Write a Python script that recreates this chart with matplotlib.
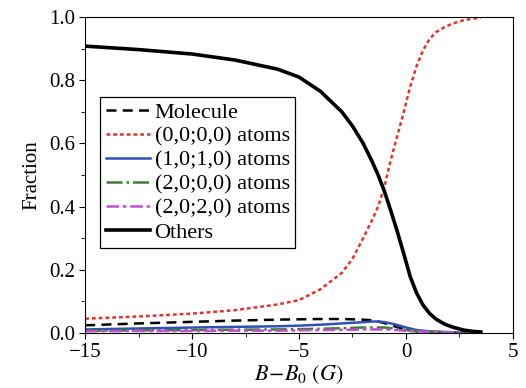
import numpy as np
import matplotlib.pyplot as plt

plt.rcParams['font.family'] = ['Liberation Serif', 'DejaVu Serif']
plt.rcParams['mathtext.fontset'] = 'stix'
plt.rcParams['font.size'] = 15

# field detuning B - B0 (G)
field = [-15, -12.5, -10, -8, -6, -5, -4, -3, -2.5, -2, -1.6, -1.3, -1, -0.7, -0.4,
         -0.1, 0.2, 0.5, 0.8, 1.1, 1.4, 1.8, 2.2, 2.7, 3.1, 3.5]

molecule = [0.024, 0.030, 0.035, 0.039, 0.042, 0.043, 0.044, 0.044, 0.043, 0.042, 0.040,
            0.036, 0.031, 0.025, 0.018, 0.012, 0.008, 0.005, 0.003, 0.002, 0.001, 0.001,
            0.0, 0.0, 0.0, 0.0]
atoms_0000 = [0.045, 0.052, 0.061, 0.072, 0.090, 0.104, 0.138, 0.19, 0.235, 0.30, 0.355,
              0.40, 0.465, 0.55, 0.625, 0.70, 0.78, 0.845, 0.895, 0.93, 0.952, 0.968,
              0.980, 0.99, 0.995, 0.998]
atoms_1010 = [0.011, 0.014, 0.017, 0.019, 0.021, 0.023, 0.026, 0.030, 0.032, 0.034, 0.036,
              0.036, 0.034, 0.030, 0.025, 0.019, 0.014, 0.009, 0.007, 0.005, 0.004, 0.003,
              0.002, 0.001, 0.0, 0.0]
atoms_2000 = [0.007, 0.008, 0.009, 0.010, 0.011, 0.012, 0.013, 0.015, 0.016, 0.017, 0.017,
              0.017, 0.017, 0.015, 0.013, 0.010, 0.008, 0.006, 0.005, 0.004, 0.003, 0.002,
              0.002, 0.001, 0.0, 0.0]
atoms_2020 = [0.005, 0.006, 0.006, 0.007, 0.007, 0.008, 0.009, 0.010, 0.010, 0.011, 0.011,
              0.011, 0.011, 0.010, 0.009, 0.007, 0.006, 0.005, 0.004, 0.003, 0.003, 0.002,
              0.002, 0.001, 0.0, 0.0]
others = [0.908, 0.897, 0.883, 0.864, 0.835, 0.81, 0.765, 0.70, 0.655, 0.60, 0.545,
          0.50, 0.447, 0.385, 0.32, 0.25, 0.178, 0.126, 0.088, 0.062, 0.044, 0.028,
          0.018, 0.009, 0.005, 0.003]

fig = plt.figure(figsize=(5.26, 3.88), dpi=100)
ax = fig.add_axes([0.162, 0.142, 0.813, 0.814])

ax.plot(field, molecule, color='black', linestyle=(0, (4, 2.5)), lw=1.8, label='Molecule')
ax.plot(field, atoms_0000, color='#e8302a', linestyle=(0, (1.5, 1.2)), lw=1.8, label='(0,0;0,0) atoms')
ax.plot(field, atoms_1010, color='#3050b8', linestyle='-', lw=1.8, label='(1,0;1,0) atoms')
ax.plot(field, atoms_2000, color='#3a7d2c', linestyle='-.', lw=1.8, label='(2,0;0,0) atoms')
ax.plot(field, atoms_2020, color='#c050d0', linestyle=(0, (5, 1.5, 1.5, 1.5)), lw=1.8, label='(2,0;2,0) atoms')
ax.plot(field, others, color='black', linestyle='-', lw=2.6, label='Others')

ax.set_xlim(-15, 5)
ax.set_ylim(0, 1.0)
ax.set_xticks([-15, -10, -5, 0, 5])
ax.set_xticks(np.arange(-12.5, 5, 2.5), minor=True)
ax.set_yticks([0.0, 0.2, 0.4, 0.6, 0.8, 1.0])
ax.set_yticks(np.arange(0.1, 1.0, 0.2), minor=True)
ax.tick_params(which='both', direction='out', top=False, right=False, labelsize=15)
ax.tick_params(which='major', length=4, pad=3)
ax.tick_params(which='minor', length=3)
ax.set_xticklabels(['\u221215', '\u221210', '\u22125', '0', '5'])
ax.set_yticklabels(['0.0', '0.2', '0.4', '0.6', '0.8', '1.0'])

ax.set_xlabel(r'$B\!-\!B_0\ (G)$', fontsize=16, labelpad=1)
ax.set_ylabel('Fraction', fontsize=15, labelpad=6)

leg = ax.legend(loc='upper left', bbox_to_anchor=(0.035, 0.747), borderaxespad=0,
                fancybox=False, edgecolor='black', framealpha=1,
                handlelength=2.0, handletextpad=0.2, labelspacing=0.15,
                borderpad=0.25, fontsize=16)
leg.get_frame().set_linewidth(0.9)

fig.savefig('out.png', dpi=100)
